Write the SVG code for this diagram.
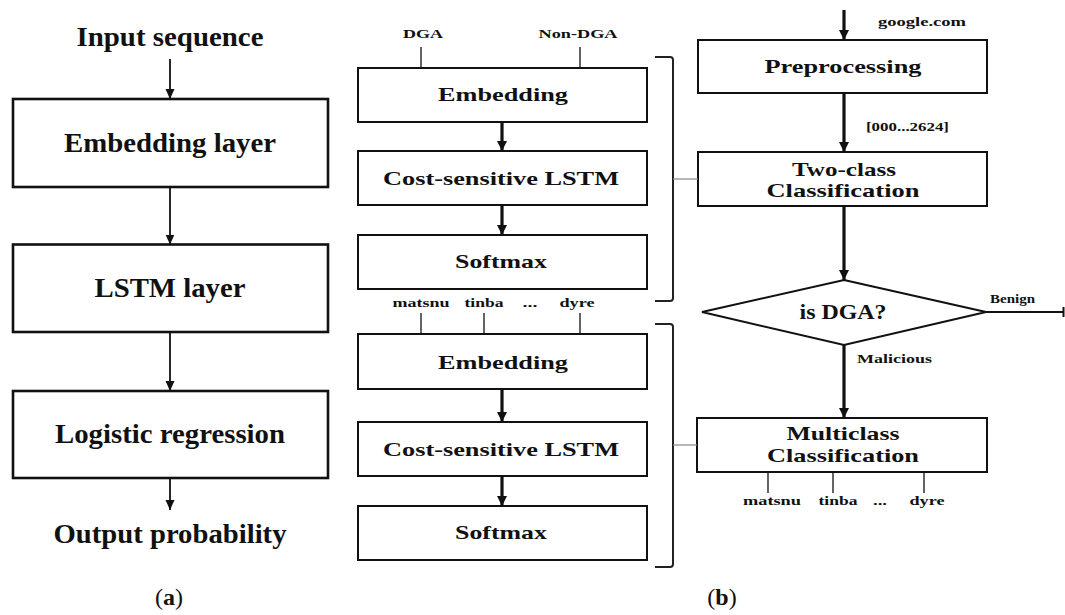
<svg xmlns="http://www.w3.org/2000/svg" width="1065" height="615" viewBox="0 0 1065 615">
  <defs>
    <style>
      text { font-family: "Liberation Serif", "Times New Roman", serif; font-weight: bold; fill: #111; }
      .big { font-size: 27px; }
      .mid { font-size: 19px; }
      .dec { font-size: 21px; }
      .sm { font-size: 13px; }
      .cap { font-size: 24px; font-weight: normal; }
      .box-a { fill: #fff; stroke: #111; stroke-width: 2.6; }
      .box-b { fill: #fff; stroke: #111; stroke-width: 2; }
      .thin { stroke: #111; stroke-width: 1.8; fill: none; }
      .thick { stroke: #111; stroke-width: 3.2; fill: none; }
      .tick { stroke: #111; stroke-width: 1.3; fill: none; }
      .brace { stroke: #222; stroke-width: 2; fill: none; }
      .link { stroke: #888; stroke-width: 1.2; fill: none; }
    </style>
    <marker id="headThin" markerUnits="userSpaceOnUse" viewBox="0 0 10 10" refX="10" refY="5" markerWidth="10" markerHeight="10" orient="auto">
      <path d="M0,0.5 L10,5 L0,9.5 z" fill="#111"/>
    </marker>
    <marker id="headThick" markerUnits="userSpaceOnUse" viewBox="0 0 10 10" refX="10" refY="5" markerWidth="10" markerHeight="11" orient="auto">
      <path d="M0,0 L10,5 L0,10 z" fill="#111"/>
    </marker>
  </defs>

  <!-- (a) plain LSTM stack -->
  <text class="big" x="170" y="46" text-anchor="middle" textLength="187" lengthAdjust="spacingAndGlyphs">Input sequence</text>
  <g id="a-embedding">
    <rect class="box-a" x="13" y="99" width="315" height="88"/>
    <text class="big" x="170" y="152" text-anchor="middle" textLength="212" lengthAdjust="spacingAndGlyphs">Embedding layer</text>
  </g>
  <g id="a-lstm">
    <rect class="box-a" x="13" y="244.5" width="315" height="87.5"/>
    <text class="big" x="170" y="297" text-anchor="middle" textLength="151" lengthAdjust="spacingAndGlyphs">LSTM layer</text>
  </g>
  <g id="a-logistic">
    <rect class="box-a" x="13" y="391" width="315" height="87"/>
    <text class="big" x="170" y="443" text-anchor="middle" textLength="230" lengthAdjust="spacingAndGlyphs">Logistic regression</text>
  </g>
  <text class="big" x="170" y="543" text-anchor="middle" textLength="233" lengthAdjust="spacingAndGlyphs">Output probability</text>
  <text class="cap" x="169" y="605" text-anchor="middle">(<tspan font-weight="bold">a</tspan>)</text>

  <!-- (b) two-stage model: upper binary stack -->
  <g id="b1-embedding">
    <rect class="box-b" x="358" y="68" width="289" height="54"/>
    <text class="mid" x="503" y="101" text-anchor="middle" textLength="130" lengthAdjust="spacingAndGlyphs">Embedding</text>
  </g>
  <g id="b1-lstm">
    <rect class="box-b" x="358" y="151" width="289" height="54"/>
    <text class="mid" x="501" y="185" text-anchor="middle" textLength="236" lengthAdjust="spacingAndGlyphs">Cost-sensitive LSTM</text>
  </g>
  <g id="b1-softmax">
    <rect class="box-b" x="358" y="235" width="289" height="54"/>
    <text class="mid" x="501" y="268" text-anchor="middle" textLength="92" lengthAdjust="spacingAndGlyphs">Softmax</text>
  </g>

  <!-- lower multiclass stack -->
  <g id="b2-embedding">
    <rect class="box-b" x="358" y="334" width="289" height="55"/>
    <text class="mid" x="503" y="369" text-anchor="middle" textLength="130" lengthAdjust="spacingAndGlyphs">Embedding</text>
  </g>
  <g id="b2-lstm">
    <rect class="box-b" x="358" y="422" width="289" height="54"/>
    <text class="mid" x="501" y="456" text-anchor="middle" textLength="236" lengthAdjust="spacingAndGlyphs">Cost-sensitive LSTM</text>
  </g>
  <g id="b2-softmax">
    <rect class="box-b" x="358" y="506" width="289" height="54"/>
    <text class="mid" x="501" y="539" text-anchor="middle" textLength="92" lengthAdjust="spacingAndGlyphs">Softmax</text>
  </g>

  <!-- output labels of the stacks -->
  <g id="b1-labels">
    <text class="sm" x="423" y="38" text-anchor="middle" textLength="40" lengthAdjust="spacingAndGlyphs">DGA</text>
    <text class="sm" x="578" y="38" text-anchor="middle" textLength="79" lengthAdjust="spacingAndGlyphs">Non-DGA</text>
  </g>
  <g id="b2-labels">
    <text class="sm" x="421" y="307" text-anchor="middle" textLength="57" lengthAdjust="spacingAndGlyphs">matsnu</text>
    <text class="sm" x="484" y="307" text-anchor="middle" textLength="39" lengthAdjust="spacingAndGlyphs">tinba</text>
    <text class="sm" x="530" y="307" text-anchor="middle" textLength="15" lengthAdjust="spacingAndGlyphs">...</text>
    <text class="sm" x="577" y="307" text-anchor="middle" textLength="35" lengthAdjust="spacingAndGlyphs">dyre</text>
  </g>

  <!-- pipeline on the right -->
  <text class="sm" x="878" y="26" textLength="88" lengthAdjust="spacingAndGlyphs">google.com</text>
  <g id="c-preprocessing">
    <rect class="box-b" x="698" y="40" width="289" height="53"/>
    <text class="mid" x="843" y="73" text-anchor="middle" textLength="157" lengthAdjust="spacingAndGlyphs">Preprocessing</text>
  </g>
  <text class="sm" x="866" y="131" textLength="83" lengthAdjust="spacingAndGlyphs">[000...2624]</text>
  <g id="c-twoclass">
    <rect class="box-b" x="698" y="152" width="289" height="54"/>
    <text class="mid" x="844" y="176" text-anchor="middle" textLength="104" lengthAdjust="spacingAndGlyphs">Two-class</text>
    <text class="mid" x="843" y="197" text-anchor="middle" textLength="153" lengthAdjust="spacingAndGlyphs">Classification</text>
  </g>
  <g id="c-decision">
    <polygon points="844,280 986,312 844,345 702,312" fill="#fff" stroke="#111" stroke-width="2"/>
    <text class="dec" x="843" y="319" text-anchor="middle" textLength="87" lengthAdjust="spacingAndGlyphs">is DGA?</text>
  </g>
  <text class="sm" x="990" y="303" textLength="45" lengthAdjust="spacingAndGlyphs">Benign</text>
  <text class="sm" x="857" y="363" textLength="75" lengthAdjust="spacingAndGlyphs">Malicious</text>
  <g id="c-multiclass">
    <rect class="box-b" x="697" y="418" width="290" height="54"/>
    <text class="mid" x="843" y="440" text-anchor="middle" textLength="113" lengthAdjust="spacingAndGlyphs">Multiclass</text>
    <text class="mid" x="843" y="462" text-anchor="middle" textLength="152" lengthAdjust="spacingAndGlyphs">Classification</text>
  </g>
  <g id="c-labels">
    <text class="sm" x="772" y="505" text-anchor="middle" textLength="58" lengthAdjust="spacingAndGlyphs">matsnu</text>
    <text class="sm" x="838" y="505" text-anchor="middle" textLength="39" lengthAdjust="spacingAndGlyphs">tinba</text>
    <text class="sm" x="880" y="505" text-anchor="middle" textLength="14" lengthAdjust="spacingAndGlyphs">...</text>
    <text class="sm" x="927" y="505" text-anchor="middle" textLength="35" lengthAdjust="spacingAndGlyphs">dyre</text>
  </g>
  <text class="cap" x="722" y="605" text-anchor="middle">(<tspan font-weight="bold">b</tspan>)</text>

  <g id="connectors">
    <!-- (a) flow -->
    <line class="thin" x1="170" y1="59" x2="170" y2="99" marker-end="url(#headThin)"/>
    <line class="thin" x1="170" y1="187" x2="170" y2="244.5" marker-end="url(#headThin)"/>
    <line class="thin" x1="170" y1="332" x2="170" y2="391" marker-end="url(#headThin)"/>
    <line class="thin" x1="170" y1="478" x2="170" y2="510" marker-end="url(#headThin)"/>

    <!-- stack flows -->
    <line class="thick" x1="502" y1="122" x2="502" y2="151" marker-end="url(#headThick)"/>
    <line class="thick" x1="502" y1="205" x2="502" y2="235" marker-end="url(#headThick)"/>
    <line class="thick" x1="502" y1="389" x2="502" y2="422" marker-end="url(#headThick)"/>
    <line class="thick" x1="502" y1="476" x2="502" y2="506" marker-end="url(#headThick)"/>

    <!-- output ticks -->
    <line class="tick" x1="421" y1="47" x2="421" y2="68"/>
    <line class="tick" x1="580" y1="47" x2="580" y2="68"/>
    <line class="tick" x1="421" y1="313" x2="421" y2="334"/>
    <line class="tick" x1="484" y1="313" x2="484" y2="334"/>
    <line class="tick" x1="580" y1="313" x2="580" y2="334"/>
    <line class="tick" x1="768" y1="472" x2="768" y2="493"/>
    <line class="tick" x1="833" y1="472" x2="833" y2="493"/>
    <line class="tick" x1="924" y1="472" x2="924" y2="493"/>

    <!-- braces linking each stack to its stage -->
    <path class="brace" d="M655,57 L670,57 Q673,57 673,60 L673,298 Q673,301 670,301 L655,301"/>
    <line class="link" x1="673" y1="179" x2="698" y2="179"/>
    <path class="brace" d="M655,324 L670,324 Q673,324 673,327 L673,564 Q673,567 670,567 L655,567"/>
    <line class="link" x1="673" y1="445" x2="697" y2="445"/>

    <!-- pipeline flow -->
    <line class="thick" x1="844" y1="10" x2="844" y2="40" marker-end="url(#headThick)"/>
    <line class="thick" x1="844" y1="93" x2="844" y2="152" marker-end="url(#headThick)"/>
    <line class="thick" x1="844" y1="206" x2="844" y2="280" marker-end="url(#headThick)"/>
    <line class="thick" x1="844" y1="345" x2="844" y2="418" marker-end="url(#headThick)"/>
    <line x1="986" y1="312" x2="1064" y2="312" stroke="#111" stroke-width="2"/>
    <line x1="1063.5" y1="307" x2="1063.5" y2="317" stroke="#111" stroke-width="2"/>
  </g>
</svg>
